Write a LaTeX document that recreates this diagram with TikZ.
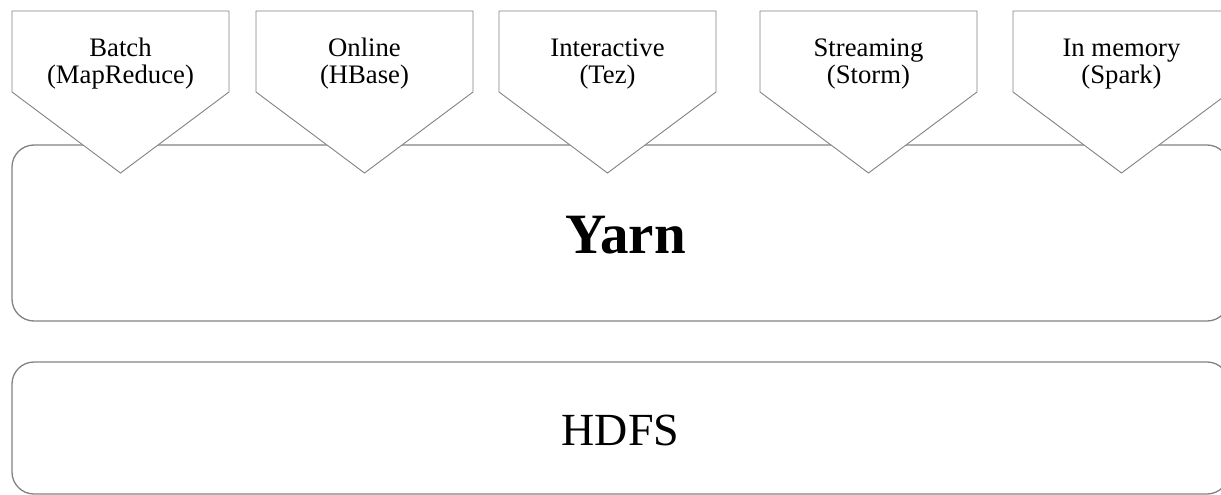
\documentclass[tikz,border=0pt]{standalone}
\usepackage{fontspec}
\setmainfont{Liberation Serif}
\definecolor{linegray}{RGB}{130,130,130}
\begin{document}
\begin{tikzpicture}[x=1pt,y=-1pt]
\tikzset{
  layerbox/.style={draw=linegray, line width=1.3pt, rounded corners=22pt},
  pent/.style={draw=linegray, line width=0.9pt, fill=white, line join=miter},
  plabel/.style={font=\fontsize{26.7}{26.7}\selectfont, inner sep=0pt, anchor=base},
  bigbold/.style={font=\bfseries\fontsize{57}{57}\selectfont, inner sep=0pt, anchor=base},
  bigreg/.style={font=\fontsize{46}{46}\selectfont, inner sep=0pt, anchor=base},
}
\useasboundingbox (0,0) rectangle (1221,495);
% layer boxes
\draw[layerbox] (12,145) rectangle (1229,321);
\draw[layerbox] (12,362) rectangle (1229,494);
\node[bigbold] (yarn) at (625.5,253) {Yarn};
\node[bigreg] (hdfs) at (620.5,445) {HDFS};
% pentagons
\foreach \l/\n/\a/\b in {12/p1/Batch/(MapReduce), 256/p2/Online/(HBase), 499/p3/Interactive/(Tez), 760/p4/Streaming/(Storm), 1013/p5/In memory/(Spark)}{
  \draw[pent] (\l,11) -- ++(217,0) -- ++(0,81) -- ++(-108.5,81) -- ++(-108.5,-81) -- cycle;
  \node[plabel] (\n a) at (\l+108.5,57) {\a};
  \node[plabel] (\n b) at (\l+108.5,83.5) {\b};
}
\end{tikzpicture}
\end{document}
